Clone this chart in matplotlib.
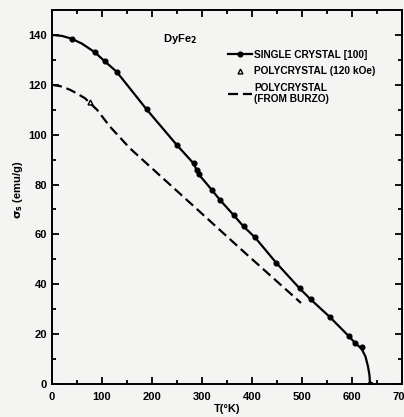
import numpy as np
import matplotlib.pyplot as plt

# single crystal [100] - smooth curve and measured points
curve_T = [0, 20, 39, 60, 86, 105, 129, 189, 249, 283, 293, 319, 336, 363,
           383, 406, 448, 495, 517, 556, 593, 606, 619, 627, 632, 635, 636]
curve_sigma = [140, 139.6, 138.5, 136.5, 133, 129.5, 125.3, 110.2, 96, 88.5,
               84.2, 78, 73.8, 67.8, 63.2, 58.8, 48.7, 38.4, 34, 26.8, 19.3,
               16.5, 14.2, 11, 7, 3.5, 0]
sc_T = [39, 86, 105, 129, 189, 249, 283, 289, 293, 319, 336, 363, 383, 406,
        448, 495, 517, 556, 593, 606, 619, 636]
sc_sigma = [138.5, 133, 129.5, 125.3, 110.2, 96, 88.5, 86, 84.2, 78, 73.8,
            67.8, 63.2, 58.8, 48.7, 38.4, 34, 26.8, 19.3, 16.5, 14.7, 0]

# polycrystal 120 kOe
poly_T = [76]
poly_sigma = [113]

# polycrystal (Burzo)
burzo_T = [0, 20, 36, 50, 66, 90, 116, 156, 289, 376, 498]
burzo_sigma = [120, 119.3, 118, 116.5, 114.6, 110, 103.2, 94.5, 70.3, 54.4, 32.5]

plt.rcParams['font.family'] = ['Liberation Sans', 'DejaVu Sans']
plt.rcParams['font.weight'] = 'bold'
plt.rcParams['mathtext.default'] = 'bf'

fig = plt.figure(figsize=(4.04, 4.17), dpi=100)
fig.patch.set_facecolor('#f4f4f2')
ax = fig.add_axes([52 / 404, 33 / 417, 350 / 404, 374 / 417])
ax.set_facecolor('#f4f4f2')

ax.plot(curve_T, curve_sigma, color='black', lw=1.6)
ax.plot(sc_T, sc_sigma, 'o', color='black', ms=3.4)
sc_handle, = ax.plot([], [], '-o', color='black', lw=1.6, ms=3.4)
tri_handle, = ax.plot(poly_T, poly_sigma, '^', color='black', ms=3.5,
                      mfc='none', mew=1)
dash_handle, = ax.plot(burzo_T, burzo_sigma, '--', color='black', lw=1.6,
                       dashes=(4.5, 2.2))

ax.set_xlim(0, 700)
ax.set_ylim(0, 150)
ax.set_xticks(np.arange(0, 701, 100))
ax.set_xticks(np.arange(0, 701, 50), minor=True)
ax.set_yticks(np.arange(0, 141, 20))
ax.set_yticks(np.arange(0, 151, 10), minor=True)
ax.tick_params(which='both', direction='in', top=True, right=True,
               labelsize=8, width=1.3)
ax.tick_params(which='major', length=5)
ax.tick_params(which='minor', length=3)
ax.tick_params(axis='x', pad=6)
for s in ax.spines.values():
    s.set_linewidth(1.4)

ax.set_xlabel('T(°K)', fontsize=8, fontweight='bold', labelpad=1)
ax.set_ylabel(r'$\sigma_s$ (emu/g)', fontsize=8, fontweight='bold')
ax.yaxis.set_label_coords(-0.078, 0.52)
ax.text(222, 137.3, 'DyFe$_2$', fontsize=8, fontweight='bold')

ax.legend([sc_handle, tri_handle, dash_handle],
          ['SINGLE CRYSTAL [100]', 'POLYCRYSTAL (120 kOe)',
           'POLYCRYSTAL\n(FROM BURZO)'],
          loc='upper left', bbox_to_anchor=(0.49, 0.905), frameon=False,
          fontsize=7.3, handlelength=2.4, handletextpad=0.2,
          labelspacing=0.65, borderaxespad=0)

fig.savefig('out.png', dpi=100, facecolor=fig.get_facecolor())
